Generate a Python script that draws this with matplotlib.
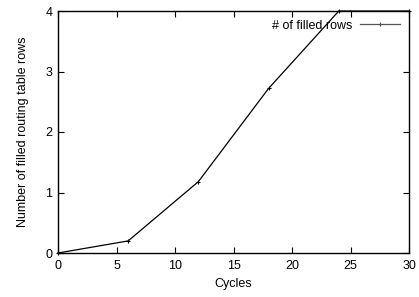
import matplotlib
matplotlib.use("Agg")
import matplotlib.pyplot as plt

cycles = [0, 6, 12, 18, 24, 30]
filled_rows = [0, 0.2, 1.18, 2.72, 4.0, 4.0]
series_label = "# of filled rows"

plt.rcParams['font.family'] = ['Liberation Sans', 'DejaVu Sans']
fig = plt.figure(figsize=(4.19, 2.97), dpi=100)
ax = fig.add_axes([58/419, 1-253/297, (409-58)/419, (253-11)/297])
ax.plot(cycles, filled_rows, color='black', lw=0.9, marker='+', ms=3, mew=0.8, label=series_label, clip_on=False)
ax.set_xlim(0, 30)
ax.set_ylim(0, 4)
ax.set_xticks([0, 5, 10, 15, 20, 25, 30])
ax.set_yticks([0, 1, 2, 3, 4])
ax.tick_params(direction='in', top=True, right=True, labelsize=9, length=4, width=0.8)
ax.tick_params(axis='x', pad=5)
ax.tick_params(axis='y', pad=4)
for s in ax.spines.values():
    s.set_linewidth(1.0)
ax.set_xlabel("Cycles", fontsize=9, labelpad=4)
ax.set_ylabel("Number of filled routing table rows", fontsize=9, labelpad=12)
leg = ax.legend(loc='upper right', frameon=False, fontsize=9, markerfirst=False,
                handlelength=3.2, borderaxespad=0.3, handletextpad=0.6)
for h in leg.get_lines():
    h.set_color('#555555')
fig.savefig("out.png", dpi=100)
